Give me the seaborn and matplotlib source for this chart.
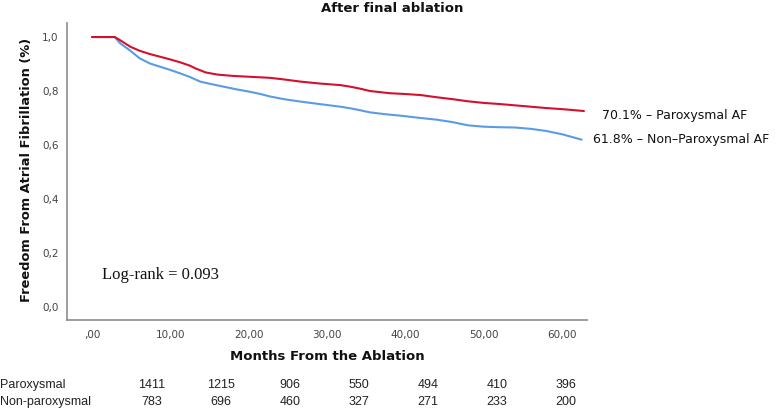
import seaborn as sns
import matplotlib.pyplot as plt
import matplotlib.ticker as mticker
import pandas as pd
import numpy as np

# =========================
#   KAPLAN-MEIER CURVES
# =========================

parox_time = [0, 2.9, 3.5, 4.2, 4.9, 6.1, 7.4, 8.7, 10, 11.3, 12.5, 13.2, 14.5,
              16, 18, 20, 22.7, 24.5, 26.6, 29, 31.7, 33, 34.2, 35.5, 38, 40, 42, 44, 46,
              48, 50, 52, 54, 56, 58, 60, 62, 62.8]
parox_surv = [1.0, 1.0, 0.99, 0.977, 0.964, 0.949, 0.937, 0.927, 0.917, 0.906, 0.894, 0.884, 0.869,
              0.861, 0.856, 0.853, 0.849, 0.843, 0.835, 0.828, 0.822, 0.816, 0.809, 0.8, 0.792, 0.789, 0.785, 0.777, 0.77,
              0.762, 0.756, 0.752, 0.747, 0.742, 0.737, 0.733, 0.728, 0.726]

nonparox_time = [0, 2.9, 3.6, 4.9, 6.1, 7.4, 8.7, 10, 11.3, 12.5, 13.8, 15.5, 17, 18.5,
                 20.2, 21.5, 22.7, 24.5, 26.6, 29, 31.7, 33, 34.2, 35.5, 37.5, 39.3, 42, 44,
                 46, 48, 50, 52, 54, 56, 58, 60, 61.5, 62.5]
nonparox_surv = [1.0, 1.0, 0.977, 0.949, 0.921, 0.902, 0.89, 0.878, 0.865, 0.852, 0.835, 0.824, 0.815, 0.806,
                 0.797, 0.789, 0.78, 0.77, 0.761, 0.752, 0.742, 0.736, 0.729, 0.721, 0.714, 0.709, 0.7, 0.694,
                 0.685, 0.673, 0.668, 0.666, 0.665, 0.66, 0.652, 0.64, 0.628, 0.62]

groups = ["Paroxysmal", "Non-paroxysmal"]
end_labels = ["70.1% \u2013 Paroxysmal AF", "61.8% \u2013 Non\u2013Paroxysmal AF"]
colors = {"Paroxysmal": "#D4102F", "Non-paroxysmal": "#5A9BE6"}

# numbers at risk
at_risk_parox = [1411, 1215, 906, 550, 494, 410, 396]
at_risk_nonparox = [783, 696, 460, 327, 271, 233, 200]

x_ticks = [0, 10, 20, 30, 40, 50, 60]
x_ticklabels = [",00", "10,00", "20,00", "30,00", "40,00", "50,00", "60,00"]
y_ticks = [0.0, 0.2, 0.4, 0.6, 0.8, 1.0]
y_ticklabels = ["0,0", "0,2", "0,4", "0,6", "0,8", "1,0"]

df = pd.concat([
    pd.DataFrame({"Months": parox_time, "Survival": parox_surv, "Group": "Paroxysmal"}),
    pd.DataFrame({"Months": nonparox_time, "Survival": nonparox_surv, "Group": "Non-paroxysmal"}),
])

# =========================
#   PLOT
# =========================

sns.set_theme(style="white")
plt.rcParams["font.family"] = ["DejaVu Sans"]

fig = plt.figure(figsize=(7.82, 4.08), dpi=100)
ax = fig.add_axes([67 / 782, 88 / 408, 520 / 782, 297 / 408])

# draw blue first so red sits on top
sns.lineplot(data=df, x="Months", y="Survival", hue="Group", hue_order=groups[::-1],
             palette=colors, estimator=None, sort=False,
             linewidth=1.5, legend=False, ax=ax)

ax.set_xlim(-3.19, 63.19)
ax.set_ylim(-0.048, 1.052)
ax.xaxis.set_major_locator(mticker.FixedLocator(x_ticks))
ax.xaxis.set_major_formatter(mticker.FixedFormatter(x_ticklabels))
ax.yaxis.set_major_locator(mticker.FixedLocator(y_ticks))
ax.yaxis.set_major_formatter(mticker.FixedFormatter(y_ticklabels))
ax.tick_params(axis="both", length=0, labelsize=7.5, labelcolor="#444444")
ax.tick_params(axis="x", pad=7)
ax.tick_params(axis="y", pad=6)

sns.despine(ax=ax)
for side in ["left", "bottom"]:
    ax.spines[side].set_color("#8c8c8c")
    ax.spines[side].set_linewidth(1.2)

ax.set_xlabel("")
ax.set_ylabel("")
fig.text(327 / 782, 1 - 357 / 408, "Months From the Ablation", ha="center", va="center",
         fontsize=9.5, fontweight="bold", color="#111111")
fig.text(27 / 782, 1 - 170 / 408, "Freedom From Atrial Fibrillation (%)", ha="center", va="center",
         rotation=90, fontsize=9.4, fontweight="bold", color="#111111")
fig.text(392 / 782, 1 - 9 / 408, "After final ablation", ha="center", va="center",
         fontsize=9.5, fontweight="bold", color="#111111")

# end-of-curve labels
ax.text(65.1, 0.711, end_labels[0], ha="left", va="center", fontsize=9, color="#111111", clip_on=False)
ax.text(64.0, 0.619, end_labels[1], ha="left", va="center", fontsize=9, color="#111111", clip_on=False)

ax.text(1.28, 0.119, "Log-rank = 0.093", ha="left", va="center", fontsize=12,
        family="Liberation Serif", color="#111111")

# =========================
#   NUMBERS AT RISK
# =========================

col_x = np.linspace(152, 566, len(at_risk_parox)) / 782
for label, counts, yy in [(groups[0], at_risk_parox, 385), (groups[1], at_risk_nonparox, 402)]:
    fig.text(0.0, 1 - yy / 408, label, ha="left", va="center", fontsize=9,
             family="Liberation Sans", color="#222222")
    for cx, n in zip(col_x, counts):
        fig.text(cx, 1 - yy / 408, str(n), ha="center", va="center", fontsize=9,
                 family="Liberation Sans", color="#222222")

plt.savefig("out.png", dpi=100)
